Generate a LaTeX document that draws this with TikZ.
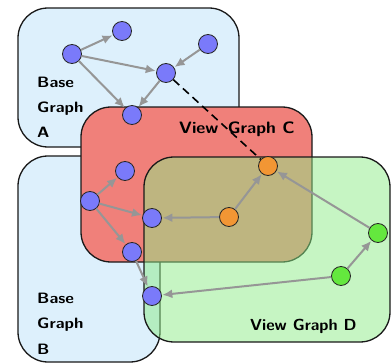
\documentclass[tikz,border=0pt]{standalone}
\usetikzlibrary{arrows.meta}
\definecolor{baseblue}{RGB}{221,240,252}
\definecolor{viewred}{RGB}{240,128,122}
\definecolor{viewgreen}{RGB}{141,235,135}
\definecolor{nodeblue}{RGB}{122,122,250}
\definecolor{nodeorange}{RGB}{242,150,52}
\definecolor{nodegreen}{RGB}{100,232,62}
\definecolor{edgegray}{RGB}{150,150,150}
\newcommand{\widetext}[2]{\scalebox{#1}[1]{#2}}
\tikzset{
  graphbox/.style={draw=black!90, line width=1.3pt, rounded corners=30pt},
  vtx/.style={circle, draw=black!85, line width=0.8pt, minimum size=19pt, inner sep=0pt},
  bvtx/.style={vtx, fill=nodeblue},
  ovtx/.style={vtx, fill=nodeorange},
  gvtx/.style={vtx, fill=nodegreen},
  edge/.style={draw=edgegray, line width=2pt, -{Latex[length=10pt,width=9pt]}, shorten >=0.5pt},
  dashedge/.style={draw=black, line width=1.6pt, dash pattern=on 8pt off 5pt},
  lbl/.style={font=\sffamily\bfseries\fontsize{15}{25}\selectfont, anchor=base west, inner sep=0pt},
}
\begin{document}
\begin{tikzpicture}[x=1pt,y=-1pt]
\useasboundingbox (0,0) rectangle (392,364);
% boxes
\draw[graphbox, fill=baseblue] (18,8) rectangle (239,147);
\draw[graphbox, fill=baseblue] (18,156) rectangle (160,362);
\draw[graphbox, fill=viewred] (81,107) rectangle (312,262);
\draw[graphbox, fill=viewgreen, fill opacity=0.5] (144,157) rectangle (390,342);
% labels
\node[lbl] (la1) at (37,87) {\widetext{1.12}{Base}};
\node[lbl] (la2) at (37,112) {\widetext{1.12}{Graph}};
\node[lbl] (la3) at (37,137) {\widetext{1.12}{A}};
\node[lbl] (lb1) at (37,303) {\widetext{1.12}{Base}};
\node[lbl] (lb2) at (37,328) {\widetext{1.12}{Graph}};
\node[lbl] (lb3) at (37,354) {\widetext{1.12}{B}};
\node[lbl, font=\sffamily\bfseries\fontsize{16.5}{20}\selectfont] (lc) at (179,133) {\widetext{1.06}{View\,\ Graph C}};
\node[lbl, font=\sffamily\bfseries\fontsize{16}{20}\selectfont] (ld) at (250,330) {\widetext{1.02}{View Graph D}};
% vertices
\node[bvtx] (a1) at (72,54) {};
\node[bvtx] (a2) at (122,31) {};
\node[bvtx] (a3) at (208,44) {};
\node[bvtx] (a4) at (166,73) {};
\node[bvtx] (a5) at (132,115) {};
\node[bvtx] (b1) at (125,171) {};
\node[bvtx] (b2) at (90,201) {};
\node[bvtx] (b3) at (152,218) {};
\node[bvtx] (b4) at (132,252) {};
\node[bvtx] (b5) at (152,296) {};
\node[ovtx] (o1) at (268,166) {};
\node[ovtx] (o2) at (229,217) {};
\node[gvtx] (g1) at (378,233) {};
\node[gvtx] (g2) at (341,276) {};
% edges
\draw[edge] (a1) -- (a2);
\draw[edge] (a1) -- (a4);
\draw[edge] (a1) -- (a5);
\draw[edge] (a3) -- (a4);
\draw[edge] (a4) -- (a5);
\draw[dashedge] (a4) -- (o1);
\draw[edge] (b2) -- (b1);
\draw[edge] (b2) -- (b3);
\draw[edge] (b2) -- (b4);
\draw[edge] (b4) -- (b5);
\draw[edge] (o2) -- (b3);
\draw[edge] (o2) -- (o1);
\draw[edge] (g1) -- (o1);
\draw[edge] (g2) -- (g1);
\draw[edge] (g2) -- (b5);
\end{tikzpicture}
\end{document}
